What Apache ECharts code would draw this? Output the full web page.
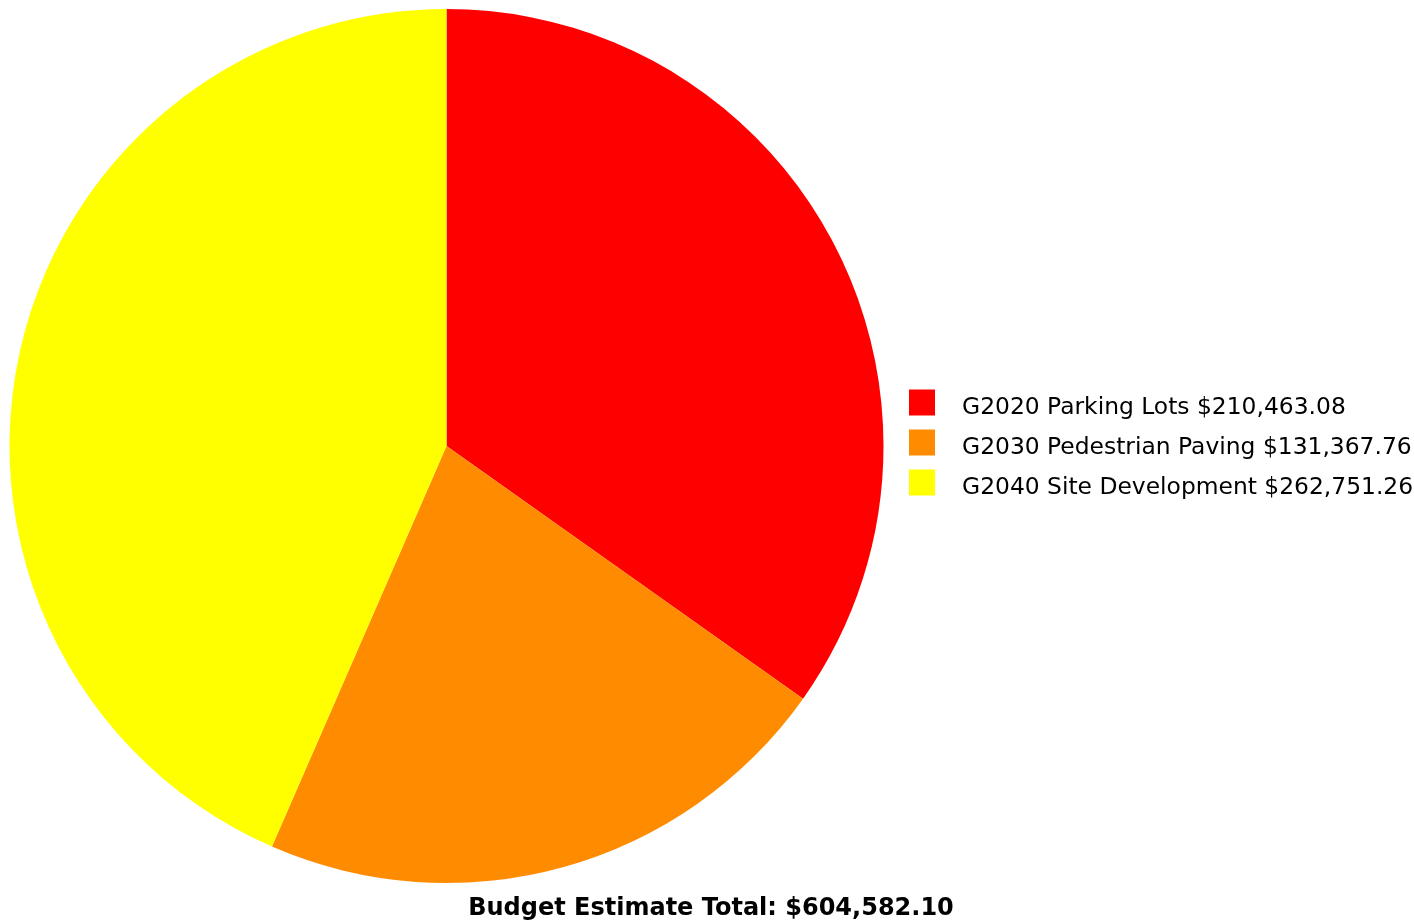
<!DOCTYPE html>
<html>
<head>
<meta charset="utf-8">
<script src="https://cdn.jsdelivr.net/npm/echarts@6/dist/echarts.min.js"></script>
<style>
  html, body { margin: 0; padding: 0; background: #fff; }
  #chart { width: 1414px; height: 924px; }
</style>
</head>
<body>
<div id="chart"></div>
<script>
// Budget breakdown by site work category
const categories = ['G2020 Parking Lots', 'G2030 Pedestrian Paving', 'G2040 Site Development'];
const amounts = [210463.08, 131367.76, 262751.26];
const colors = ['#ff0000', '#ff8c00', '#ffff00'];
const totalLabel = 'Budget Estimate Total: $604,582.10';

const money = v => '$' + v.toLocaleString('en-US', { minimumFractionDigits: 2, maximumFractionDigits: 2 });

const chart = echarts.init(document.getElementById('chart'), null, { renderer: 'canvas' });
chart.setOption({
  animation: false,
  backgroundColor: '#ffffff',
  title: {
    text: totalLabel,
    left: 711,
    textAlign: 'center',
    top: 897,
    padding: 0,
    textStyle: { fontFamily: 'DejaVu Sans', fontWeight: 'bold', fontSize: 24, color: '#000' }
  },
  legend: {
    orient: 'vertical',
    left: 909,
    top: 389.5,
    padding: 0,
    itemWidth: 26,
    itemHeight: 26,
    itemGap: 10.5,
    icon: 'rect',
    selectedMode: false,
    data: categories,
    formatter: name => '{t|' + name + ' ' + money(amounts[categories.indexOf(name)]) + '}',
    textStyle: {
      fontFamily: 'DejaVu Sans', fontSize: 23.4, color: '#000', padding: [0, 0, 0, 22],
      rich: { t: { fontFamily: 'DejaVu Sans', fontSize: 23.4, color: '#000', padding: [10, 0, 0, 0] } }
    }
  },
  series: [{
    type: 'pie',
    center: [446.5, 446],
    radius: [0, 437],
    startAngle: 90,
    clockwise: true,
    label: { show: false },
    labelLine: { show: false },
    emphasis: { disabled: true },
    itemStyle: { borderWidth: 0 },
    data: categories.map((c, i) => ({ name: c, value: amounts[i], itemStyle: { color: colors[i] } }))
  }]
});
</script>
</body>
</html>
